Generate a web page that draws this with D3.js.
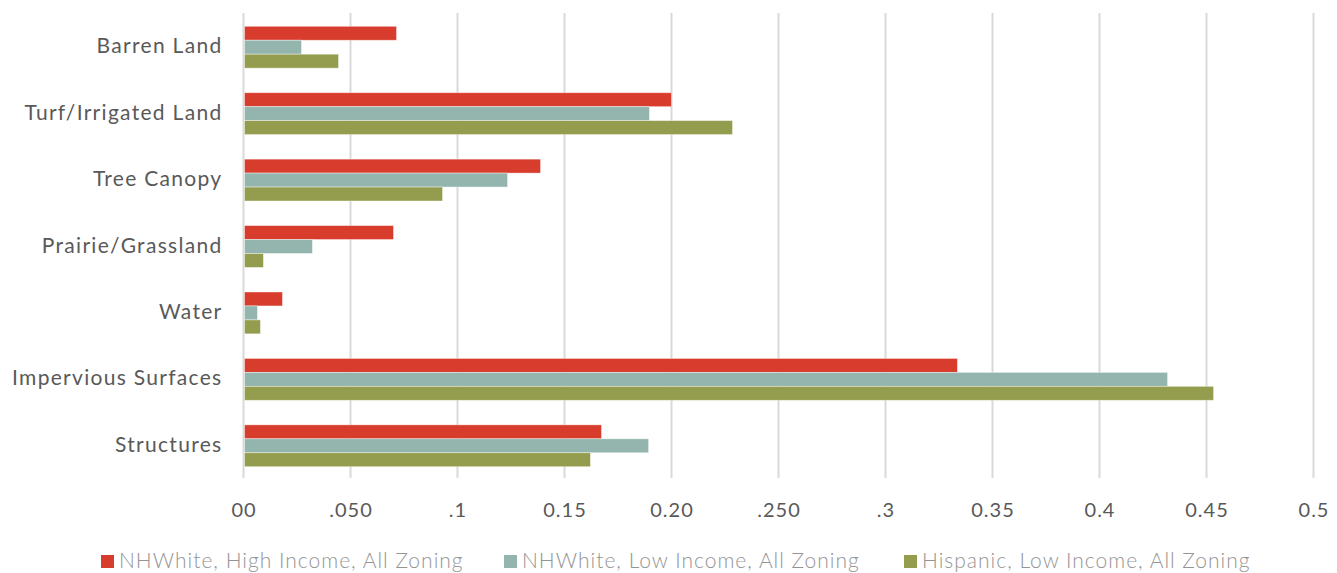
<!DOCTYPE html>
<html>
<head>
<meta charset="utf-8">
<script src="https://cdn.jsdelivr.net/npm/d3@7"></script>
<style>
  body { margin: 0; background: #fff; }
  svg { display: block; font-family: Lato, "Open Sans", sans-serif; }
</style>
</head>
<body>
<svg id="chart"></svg>
<script>
const width = 1337, height = 573;

// categories, top to bottom
const categories = ["Barren Land", "Turf/Irrigated Land", "Tree Canopy", "Prairie/Grassland", "Water", "Impervious Surfaces", "Structures"];
const seriesNames = ["NHWhite, High Income, All Zoning", "NHWhite, Low Income, All Zoning", "Hispanic, Low Income, All Zoning"];
const nhwHigh = [0.0715, 0.2000, 0.1388, 0.0701, 0.0182, 0.3336, 0.1673];
const nhwLow = [0.0271, 0.1897, 0.1234, 0.0322, 0.0065, 0.4318, 0.1893];
const hispLow = [0.0444, 0.2285, 0.0930, 0.0093, 0.0079, 0.4533, 0.1621];
const tickValues = [0, 0.05, 0.1, 0.15, 0.2, 0.25, 0.3, 0.35, 0.4, 0.45, 0.5];
const tickLabels = ["00", ".050", ".1", "0.15", "0.20", ".250", ".3", "0.35", "0.4", "0.45", "0.5"];
const colors = ["#d83c2d", "#93b5ae", "#949c4e"];

const allSeries = [nhwHigh, nhwLow, hispLow];

const svg = d3.select("#chart").attr("width", width).attr("height", height);

const x = d3.scaleLinear().domain([0, 0.5]).range([243.5, 1313.5]);
const y = d3.scaleBand().domain(categories).range([13, 478]).padding(0);
const inner = d3.scaleBand().domain(d3.range(3))
    .range([y.bandwidth() * 0.2, y.bandwidth() * 0.83]).padding(0);

// gridlines
svg.append("g")
    .selectAll("line")
    .data(tickValues)
    .join("line")
    .attr("x1", d => x(d)).attr("x2", d => x(d))
    .attr("y1", 13).attr("y2", 478)
    .attr("stroke", "#d9d9d9")
    .attr("stroke-width", 2);

// tick labels
svg.append("g")
    .selectAll("text")
    .data(tickValues)
    .join("text")
    .attr("x", d => x(d) + 0.5)
    .attr("y", 517)
    .attr("text-anchor", "middle")
    .attr("font-size", 20)
    .attr("letter-spacing", 1)
    .attr("fill", "#595959")
    .text((d, i) => tickLabels[i]);

// category labels
svg.append("g")
    .selectAll("text")
    .data(categories)
    .join("text")
    .attr("x", 222.5)
    .attr("y", d => y(d) + y.bandwidth() / 2 + 7)
    .attr("text-anchor", "end")
    .attr("font-size", 21)
    .attr("letter-spacing", 1.3)
    .attr("fill", "#595959")
    .text(d => d);

// bars
const groups = svg.append("g")
    .selectAll("g")
    .data(categories)
    .join("g")
    .attr("transform", d => "translate(0," + y(d) + ")");

groups.selectAll("rect")
    .data((d, i) => allSeries.map((s, k) => ({ k: k, v: s[i] })))
    .join("rect")
    .attr("x", x(0) + 1)
    .attr("y", d => inner(d.k))
    .attr("width", d => x(d.v) - x(0) - 1)
    .attr("height", inner.bandwidth())
    .attr("fill", d => colors[d.k])
    .attr("stroke", "#fff")
    .attr("stroke-opacity", 0.5)
    .attr("stroke-width", 0.8);

// legend
const legendX = [101, 504, 904];
const legend = svg.append("g")
    .selectAll("g")
    .data(seriesNames)
    .join("g")
    .attr("transform", (d, i) => "translate(" + legendX[i] + ",555)");

legend.append("rect")
    .attr("width", 13).attr("height", 13)
    .attr("fill", (d, i) => colors[i]);

legend.append("text")
    .attr("x", 18)
    .attr("y", 13)
    .attr("font-size", 21)
    .attr("font-weight", 300)
    .attr("letter-spacing", 1)
    .attr("fill", "#949494")
    .text(d => d);
</script>
</body>
</html>
